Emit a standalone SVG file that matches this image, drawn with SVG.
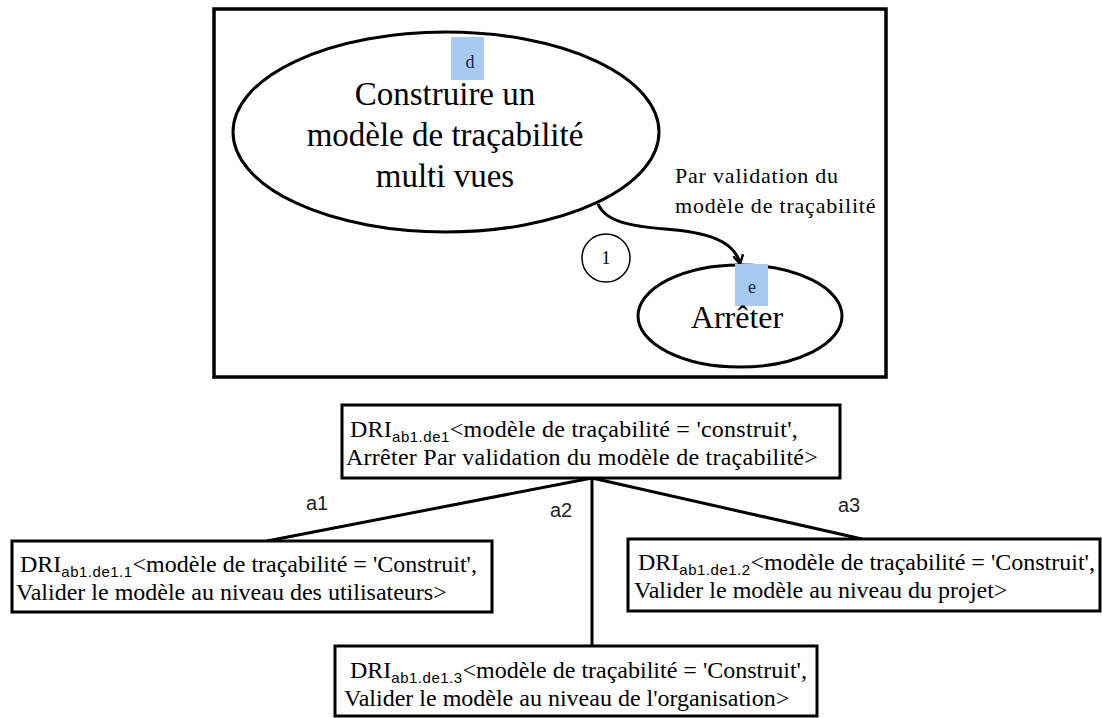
<svg xmlns="http://www.w3.org/2000/svg" width="1102" height="718" viewBox="0 0 1102 718">
<defs>
<style>
.big{font-family:"Liberation Serif","Times New Roman",serif;font-size:33px;fill:#000;text-anchor:middle}
.ell{fill:#fff;stroke:#000;stroke-width:3}
.box{fill:#fff;stroke:#000;stroke-width:3}
.tag{fill:#a6caf2}
.tagt{font-family:"Liberation Serif","Times New Roman",serif;font-size:18px;fill:#1b1b3a;text-anchor:middle}
.dri{font-family:"Liberation Serif","Times New Roman",serif;font-size:24px;fill:#000}
.wide{letter-spacing:0.25px}
.sub{font-family:"Liberation Sans",Arial,sans-serif;font-size:15px;letter-spacing:0.5px}
.lbl{font-family:"Liberation Sans",Arial,sans-serif;font-size:20px;fill:#222}
.note{font-family:"Liberation Serif","Times New Roman",serif;font-size:22px;letter-spacing:0.8px;fill:#000}
.conn{fill:none;stroke:#000;stroke-width:3}
</style>
<marker id="arr" viewBox="0 0 12 12" refX="10" refY="6" markerWidth="12" markerHeight="12" markerUnits="userSpaceOnUse" orient="auto"><path d="M1,1 L10,6 L1,11" fill="none" stroke="#000" stroke-width="2.5"/></marker>
</defs>
<rect width="1102" height="718" fill="#fff"/>
<rect id="frame" x="214" y="9" width="672" height="368" fill="none" stroke="#000" stroke-width="3.5"/>

<g id="connectors">
<path class="conn" d="M598,204 C606,222 630,226 665,229 C705,232 735,240 740,264" marker-end="url(#arr)"/>
<line class="conn" x1="592" y1="478" x2="267" y2="541"/>
<line class="conn" x1="592" y1="478" x2="862" y2="539"/>
<line class="conn" x1="592" y1="478" x2="592" y2="646"/>
<text class="lbl" x="306" y="510">a1</text>
<text class="lbl" x="550" y="517">a2</text>
<text class="lbl" x="838" y="512">a3</text>
<text class="note" x="675" y="183">Par validation du</text>
<text class="note" x="675" y="213">modèle de traçabilité</text>
</g>

<g id="node-d">
<ellipse class="ell" cx="446" cy="132" rx="213" ry="100"/>
<rect class="tag" x="451" y="37" width="33" height="43"/>
<text class="tagt" x="470" y="68">d</text>
<text class="big" x="445" y="105">Construire un</text>
<text class="big" x="445" y="146">modèle de traçabilité</text>
<text class="big" x="445" y="187">multi vues</text>
</g>

<g id="node-e">
<ellipse class="ell" cx="740" cy="316" rx="102" ry="51"/>
<rect class="tag" x="735" y="264" width="33" height="42"/>
<text class="tagt" x="752" y="293">e</text>
<text class="big" x="737" y="328" style="font-size:32px">Arrêter</text>
</g>

<g id="node-1">
<circle cx="606" cy="258" r="24" fill="#fff" stroke="#000" stroke-width="1.5"/>
<text x="606" y="264" style="font-family:'Liberation Serif',serif;font-size:18px;text-anchor:middle">1</text>
</g>

<g id="node-top">
<rect class="box" x="342" y="405" width="498" height="73"/>
<text class="dri wide" x="350" y="437">DRI<tspan class="sub" dy="5">ab1.de1</tspan><tspan dy="-5">&lt;modèle de traçabilité = 'construit',</tspan></text>
<text class="dri wide" x="346" y="465">Arrêter Par validation du modèle de traçabilité&gt;</text>
</g>

<g id="node-a1">
<rect class="box" x="12" y="541" width="480" height="71"/>
<text class="dri" x="20" y="572">DRI<tspan class="sub" dy="5">ab1.de1.1</tspan><tspan dy="-5">&lt;modèle de traçabilité = 'Construit',</tspan></text>
<text class="dri" x="16" y="600">Valider le modèle au niveau des utilisateurs&gt;</text>
</g>

<g id="node-a3">
<rect class="box" x="628" y="539" width="472" height="72"/>
<text class="dri" x="638" y="570">DRI<tspan class="sub" dy="5">ab1.de1.2</tspan><tspan dy="-5">&lt;modèle de traçabilité = 'Construit',</tspan></text>
<text class="dri" x="634" y="598">Valider le modèle au niveau du projet&gt;</text>
</g>

<g id="node-a2">
<rect class="box" x="335" y="646" width="482" height="70"/>
<text class="dri" x="350" y="678">DRI<tspan class="sub" dy="5">ab1.de1.3</tspan><tspan dy="-5">&lt;modèle de traçabilité = 'Construit',</tspan></text>
<text class="dri" x="344" y="706">Valider le modèle au niveau de l'organisation&gt;</text>
</g>
</svg>
